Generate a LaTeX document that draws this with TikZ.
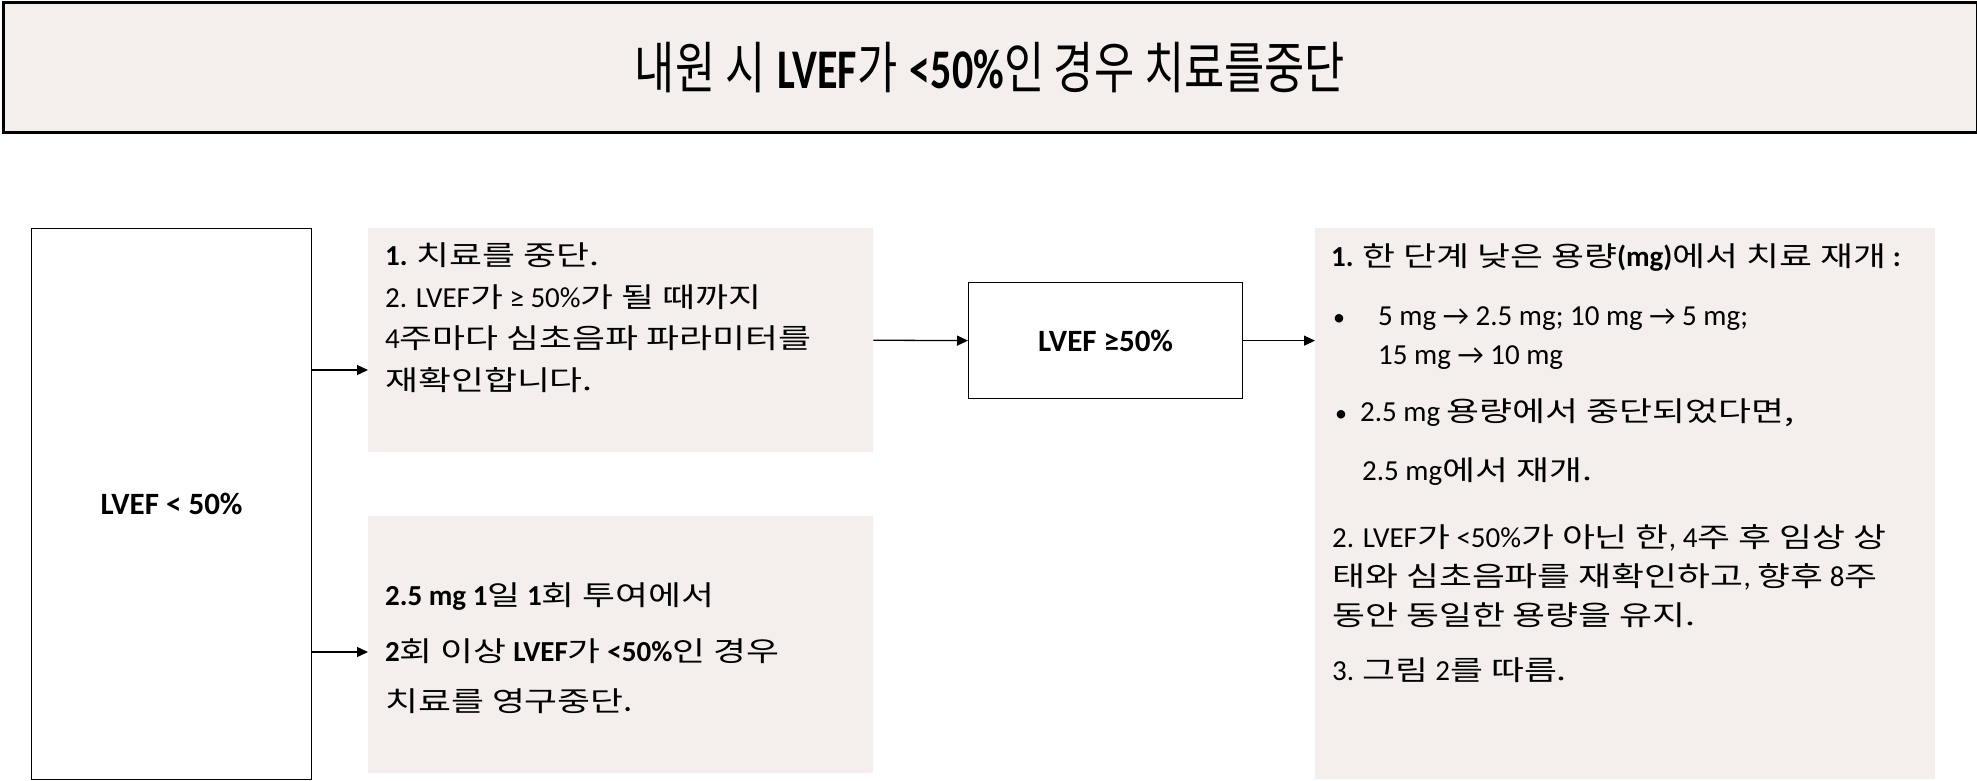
\documentclass[tikz,border=0pt]{standalone}
\usepackage{fontspec}
\setmainfont{Carlito}
\newfontfamily\kr{Noto Sans CJK KR}[Scale=0.95,FakeStretch=1.3]
\newfontfamily\tkr{Noto Sans CJK KR}[FakeStretch=0.78]
\newfontfamily\tlat{Carlito}[FakeStretch=0.75]
\usetikzlibrary{arrows.meta}
\definecolor{boxfill}{RGB}{244,239,236}
\newcommand\K[1]{{\kr\mdseries #1}}
\newcommand\TK[1]{{\tkr\mdseries #1}}
\begin{document}
\begin{tikzpicture}[x=1pt,y=-1pt,
  sbox/.style={draw=black, line width=1.3pt, fill=white, inner sep=0pt, anchor=north west},
  tbox/.style={fill=boxfill, draw=none, inner sep=0pt, anchor=north west},
  ln/.style={anchor=base west, inner sep=0pt, font=\fontsize{29}{35}\selectfont},
  big/.style={font=\fontsize{31}{37}\selectfont\bfseries},
  arr/.style={line width=1.3pt, -{Triangle[length=11pt,width=10pt]}}]
\useasboundingbox (0,0) rectangle (1977,781);
% title
\node[draw=black, line width=3pt, fill=boxfill, anchor=north west, inner sep=0pt,
      minimum width=1974pt, minimum height=130pt,
      font=\fontsize{56}{64}\selectfont] (title) at (1.5,1.5)
  {\raisebox{3pt}{\TK{내원 시} {\tlat\bfseries LVEF}\TK{가} {\tlat\bfseries <50\%}\TK{인 경우 치료를중단}}};
% boxes
\node[sbox, minimum width=280pt, minimum height=551pt, big] (lt) at (31,228) {LVEF < 50\%};
\node[tbox, minimum width=505pt, minimum height=224pt] (b1) at (368,228) {};
\node[tbox, minimum width=505pt, minimum height=257pt] (b2) at (368,516) {};
\node[sbox, minimum width=274pt, minimum height=116pt, big] (ge) at (968,282) {LVEF ≥50\%};
\node[tbox, minimum width=620pt, minimum height=551pt] (rb) at (1315,228) {};
% box 1 text
\node[ln] (b1l1) at (385,265.5) {\textbf{1.} \K{치료를 중단.}};
\node[ln] (b1l2) at (385,307) {2. LVEF\K{가} ≥ 50\%\K{가 될 때까지}};
\node[ln] (b1l3) at (385,348.5) {4\K{주마다 심초음파 파라미터를}};
\node[ln] (b1l4) at (385,390) {\K{재확인합니다.}};
% box 2 text
\node[ln] (b2l1) at (385,605.5) {\textbf{2.5 mg 1}\K{일} \textbf{1}\K{회 투여에서}};
\node[ln] (b2l2) at (385,661.5) {\textbf{2}\K{회 이상} \textbf{LVEF}\K{가} \textbf{<50\%}\K{인 경우}};
\node[ln] (b2l3) at (385,711.5) {\K{치료를 영구중단}\textbf{.}};
% right box text
\node[ln] (r1) at (1331,266.5) {\textbf{1.} \K{한 단계 낮은 용량}\textbf{(mg)}\K{에서 치료 재개} \textbf{:}};
\node[ln] (r2b) at (1333,325.5) {\fontsize{24}{24}\selectfont •};
\node[ln] (r2) at (1378,325.5) {5 mg → 2.5 mg; 10 mg → 5 mg;};
\node[ln] (r3) at (1378,364.5) {15 mg → 10 mg};
\node[ln] (r4b) at (1335,421) {\fontsize{24}{24}\selectfont •};
\node[ln] (r4) at (1360,421) {2.5 mg \K{용량에서 중단되었다면,}};
\node[ln] (r5) at (1362,480.5) {2.5 mg\K{에서 재개.}};
\node[ln] (r6) at (1332,547) {2. LVEF\K{가} <50\%\K{가 아닌 한}, 4\K{주 후 임상 상}};
\node[ln] (r7) at (1332,586) {\K{태와 심초음파를 재확인하고}, \K{향후} 8\K{주}};
\node[ln] (r8) at (1332,625) {\K{동안 동일한 용량을 유지.}};
\node[ln] (r9) at (1332,680) {3. \K{그림} 2\K{를 따름.}};
% connectors
\coordinate (a1) at (312,370);
\coordinate (a2) at (312,652);
\draw[arr] (lt.east |- a1) -- (b1.west |- a1);
\draw[arr] (lt.east |- a2) -- (b2.west |- a2);
\draw[arr] (b1.east) -- (ge.west);
\draw[arr] (ge.east) -- (ge.east -| rb.west);
\end{tikzpicture}
\end{document}
